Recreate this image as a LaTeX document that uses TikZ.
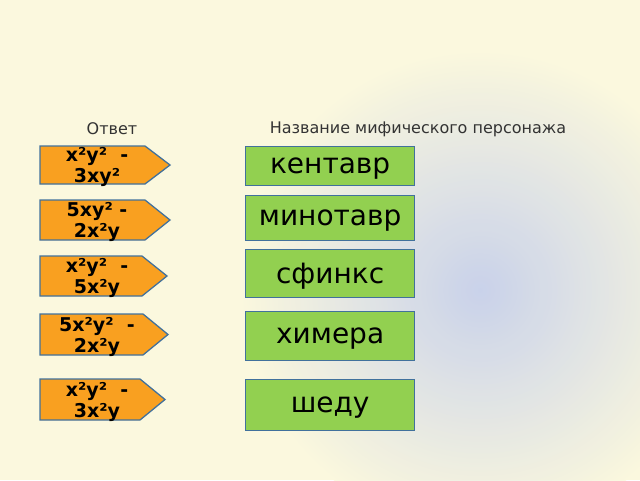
\documentclass[tikz,border=0pt]{standalone}
\usepackage{fontspec}
\setmainfont{DejaVu Sans}
\begin{document}
\begin{tikzpicture}[x=1pt,y=-1pt,
  arr/.style={draw=brd, line width=1.3pt},
  arrtxt/.style={font=\bfseries\fontsize{19}{21}\selectfont, align=center, inner sep=0pt},
  box/.style={fill=grn, draw=brd, line width=1.3pt, minimum width=169pt, anchor=north west, inner sep=0pt, text depth=0pt, font=\fontsize{28}{30}\selectfont},
  head/.style={font=\fontsize{16}{18}\selectfont, text=black!80}]
\definecolor{cream}{HTML}{FBF8DE}
\definecolor{bl}{HTML}{C4CEEC}
\definecolor{orng}{HTML}{F9A020}
\definecolor{grn}{HTML}{92D050}
\definecolor{brd}{HTML}{41719C}
\useasboundingbox (0,0) rectangle (640,480);
\fill[cream] (0,0) rectangle (640,480);
\begin{scope}
\clip (0,0) rectangle (640,480);
\shade[inner color=bl, outer color=cream, opacity=0.9] (480,290) ellipse (240pt and 240pt);
\end{scope}
\node[head] (h1) at (112,129) {Ответ};
\node[head] (h2) at (418,129) {Название мифического персонажа};
\foreach \n/\t/\b/\tip/\txt in {a1/146/184/170/{x²y²\ \ -\\3xy²},a2/200/240/170/{5xy² -\\2x²y},a3/256/296/167/{x²y²\ \ -\\5x²y},a4/314/355/168/{5x²y²\ \ -\\2x²y},a5/379/420/165/{x²y²\ \ -\\3x²y}}{
  \path[arr,fill=orng] (40,\t) -- (\tip-25,\t) -- (\tip,{(\t+\b)/2}) -- (\tip-25,\b) -- (40,\b) -- cycle;
  \node[arrtxt] (\n) at (97,{(\t+\b)/2+2}) {\txt};
}
\node[box,minimum height=39pt] (b1) at (245,146) {кентавр};
\node[box,minimum height=45pt] (b2) at (245,195) {минотавр};
\node[box,minimum height=48pt] (b3) at (245,249) {сфинкс};
\node[box,minimum height=49pt] (b4) at (245,311) {химера};
\node[box,minimum height=51pt] (b5) at (245,379) {шеду};
\end{tikzpicture}
\end{document}
